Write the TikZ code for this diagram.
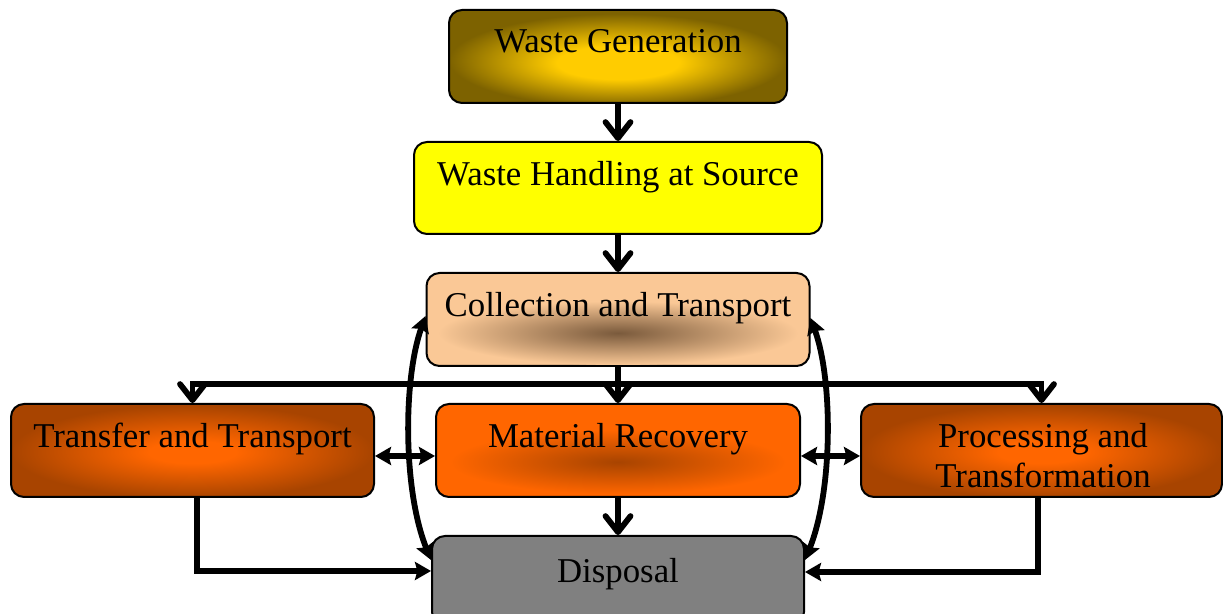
\documentclass[tikz,border=0pt]{standalone}
\usepackage{fontspec}
\setmainfont{Liberation Serif}
\usetikzlibrary{arrows.meta}
\definecolor{wgin}{HTML}{FFCC00}
\definecolor{wgout}{HTML}{7D6200}
\definecolor{whsfill}{HTML}{FFFF00}
\definecolor{ctbase}{HTML}{FAC896}
\definecolor{ctdark}{HTML}{7A5A3C}
\definecolor{orng}{HTML}{FF6600}
\definecolor{brwn}{HTML}{A84400}
\definecolor{dpfill}{HTML}{808080}
\pgfdeclareradialshading{wgshade}{\pgfpoint{0bp}{-4bp}}{color(0bp)=(wgin); color(9bp)=(wgin); color(25bp)=(wgout); color(50bp)=(wgout)}
\pgfdeclareradialshading{orshade}{\pgfpoint{0bp}{-1bp}}{color(0bp)=(orng); color(6bp)=(orng); color(25bp)=(brwn); color(50bp)=(brwn)}
\begin{document}
\begin{tikzpicture}[x=0.5pt,y=-0.5pt,
  box/.style={draw=black, line width=1pt, rounded corners=6.5pt, inner sep=0pt},
  txt/.style={font=\fontsize{17.4pt}{20pt}\selectfont, inner sep=0pt, align=center},
  barbarr/.style={line width=2.9pt, -{Straight Barb[length=8pt,width=12.5pt,round]}},
  tri/.tip={Stealth[length=8pt,width=9pt,inset=1.2pt]},
  triarr/.style={line width=2.9pt, -{tri}},
  dtriarr/.style={line width=2.9pt, {tri}-{tri}},
]
\useasboundingbox (0,0) rectangle (1223,614);

% boxes
\node[box, shade, shading=wgshade, minimum width=169pt, minimum height=46.5pt] (wg) at (618,56.5) {};
\node[box, fill=whsfill, minimum width=204pt, minimum height=46pt] (whs) at (618,188) {};
\node[box, fill=ctbase, minimum width=191.5pt, minimum height=46.5pt] (ct) at (618,319.5) {};
\shade[inner color=ctdark, outer color=ctbase] (618,333) ellipse [x radius=90pt, y radius=16pt];
\node[box, shade, shading=orshade, minimum width=181.5pt, minimum height=46.5pt] (tt) at (192.5,450.5) {};
\node[box, fill=orng, minimum width=182pt, minimum height=46.5pt] (mr) at (618,450.5) {};
\shade[inner color=brwn, outer color=orng] (618,462) ellipse [x radius=84pt, y radius=16pt];
\node[box, shade, shading=orshade, minimum width=180.5pt, minimum height=46.5pt] (pt) at (1041.5,450.5) {};
\node[box, fill=dpfill, minimum width=186pt, minimum height=44.5pt] (dp) at (618,580.5) {};

% texts
\node[txt, anchor=base] (wgt) at (618,53) {Waste Generation};
\node[txt, anchor=base] (whst) at (618,186) {Waste Handling at Source};
\node[txt, anchor=base] (ctt) at (618,317) {Collection and Transport};
\node[txt, anchor=base] (ttt) at (192.5,448) {Transfer and Transport};
\node[txt, anchor=base] (mrt) at (618,448) {Material Recovery};
\node[txt] (ptt) at (1043,456) {Processing and\\Transformation};
\node[txt, anchor=base] (dpt) at (618,583) {Disposal};

% connectors
\coordinate (jn) at (618,384);
\draw[barbarr] (wg.south) -- (whs.north);
\draw[barbarr] (whs.south) -- (ct.north);
\draw[barbarr] (ct.south) -- (mr.north);
\draw[line width=2.9pt] (jn -| tt.north) -- (jn -| pt.north);
\draw[barbarr] (jn) -| (tt.north);
\draw[barbarr] (jn) -| (pt.north);
\draw[barbarr] (mr.south) -- (dp.north);
\draw[dtriarr] ([yshift=-2.75pt]tt.east) -- ([yshift=-2.75pt]mr.west);
\draw[dtriarr] ([yshift=-2.75pt]mr.east) -- ([yshift=-2.75pt]pt.west);
\draw[triarr] ([xshift=2.25pt]tt.south) |- ([yshift=4.75pt]dp.west);
\draw[triarr] ([xshift=-1.75pt]pt.south) |- ([yshift=4.25pt]dp.east);
\draw[dtriarr] ([yshift=1.75pt]ct.west) .. controls (403,380) and (403,490) .. ([yshift=10.25pt]dp.west);
\draw[dtriarr] ([yshift=0.75pt]ct.east) .. controls (833,380) and (833,490) .. ([yshift=10.25pt]dp.east);
\end{tikzpicture}
\end{document}
